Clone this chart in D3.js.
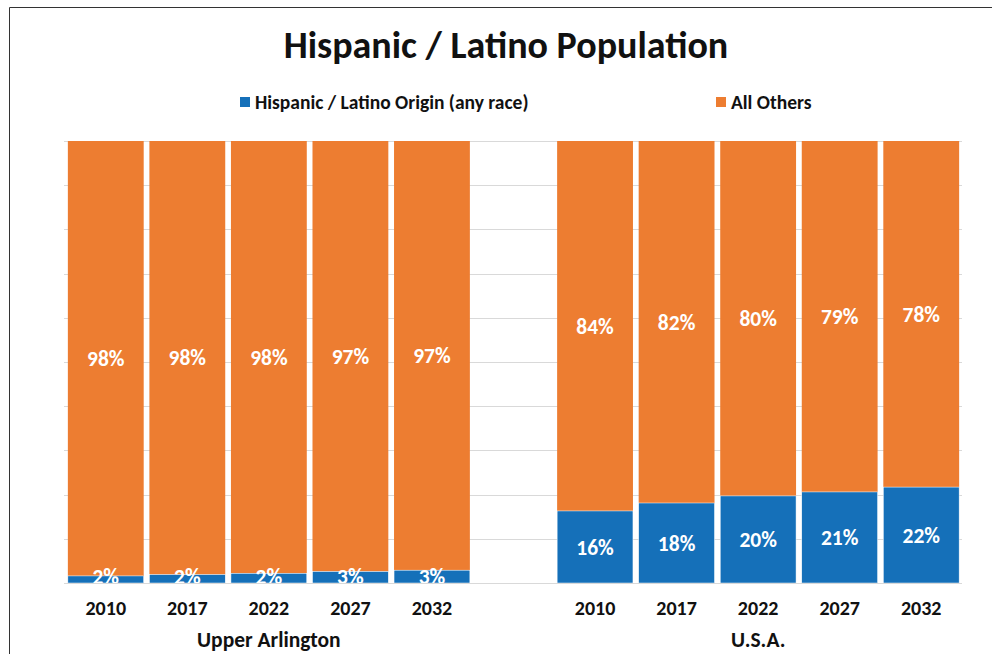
<!doctype html>
<html lang="en">
<head>
    <meta charset="UTF-8">
    <title>Hispanic / Latino Population</title>
    <style>
        body { margin: 0; background: #fff; }
        svg text { font-family: Carlito, Calibri, Lato, "Open Sans", sans-serif; font-weight: bold; }
    </style>
</head>
<body>
    <svg width="992" height="654"></svg>
    <script src="https://cdn.jsdelivr.net/npm/d3@7"></script>
    <script>
        const years = ['2010', '2017', '2022', '2027', '2032']
        const places = ['Upper Arlington', 'U.S.A.']
        const seriesNames = ['Hispanic / Latino Origin (any race)', 'All Others']
        const colors = ['#1570b9', '#ed7d31']
        // hispanic share (%), others = 100 - share
        const hispanicUA = [1.6, 1.9, 2.2, 2.6, 2.9]
        const hispanicUSA = [16.3, 18.1, 19.7, 20.6, 21.7]

        const rows = [].concat(
            years.map((y, i) => ({key: 'UA-' + y, year: y, h: hispanicUA[i]})),
            [{key: 'gap'}],
            years.map((y, i) => ({key: 'USA-' + y, year: y, h: hispanicUSA[i]}))
        )
        const bars = rows.filter(d => d.key !== 'gap')

        const svg = d3.select('svg')
        const plotTop = 141, plotBottom = 583, plotLeft = 65, plotRight = 962

        const x = d3.scaleBand().domain(rows.map(d => d.key))
            .range([plotLeft, plotRight]).paddingInner(0.07).paddingOuter(0.035)
        const y = d3.scaleLinear().domain([0, 100]).range([plotBottom, plotTop])

        // frame
        svg.append('path').attr('d', 'M9.5,654 V7.5 H992')
            .attr('fill', 'none').attr('stroke', '#333').attr('stroke-width', 1)

        // gridlines
        svg.append('g').selectAll('line').data(d3.range(10, 101, 10)).enter()
            .append('line')
            .attr('x1', plotLeft - 1).attr('x2', plotRight)
            .attr('y1', d => Math.round(y(d)) + 0.5).attr('y2', d => Math.round(y(d)) + 0.5)
            .attr('stroke', '#d9d9d9')

        // stacked bars
        const g = svg.append('g')
        g.selectAll('.others').data(bars).enter().append('rect')
            .attr('x', d => x(d.key)).attr('width', x.bandwidth())
            .attr('y', y(100)).attr('height', d => y(d.h) - y(100))
            .attr('fill', colors[1])
        g.selectAll('.hisp').data(bars).enter().append('rect')
            .attr('x', d => x(d.key)).attr('width', x.bandwidth())
            .attr('y', d => y(d.h)).attr('height', d => y(0) - y(d.h))
            .attr('fill', colors[0]).attr('stroke', '#fff').attr('stroke-width', 0.5)

        // baseline
        svg.append('line').attr('x1', plotLeft - 1).attr('x2', plotRight)
            .attr('y1', plotBottom + 0.5).attr('y2', plotBottom + 0.5).attr('stroke', '#d9d9d9')

        // value labels
        g.selectAll('.lblO').data(bars).enter().append('text')
            .attr('x', d => x(d.key) + x.bandwidth() / 2)
            .attr('y', d => (y(100) + y(d.h)) / 2)
            .attr('dy', '0.35em').attr('text-anchor', 'middle')
            .attr('fill', '#fff').attr('font-size', 21.5)
            .text(d => Math.round(100 - d.h) + '%')
        g.selectAll('.lblH').data(bars).enter().append('text')
            .attr('x', d => x(d.key) + x.bandwidth() / 2)
            .attr('y', d => d.h < 5 ? y(0) - 7 : (y(d.h) + y(0)) / 2)
            .attr('dy', '0.35em').attr('text-anchor', 'middle')
            .attr('fill', '#fff').attr('font-size', 21.5)
            .text(d => Math.round(d.h) + '%')

        // axis labels
        svg.append('g').selectAll('text').data(bars).enter().append('text')
            .attr('x', d => x(d.key) + x.bandwidth() / 2).attr('y', 615)
            .attr('text-anchor', 'middle').attr('font-size', 20).attr('fill', '#111')
            .text(d => d.year)

        const groupKeys = [['UA-2010', 'UA-2032'], ['USA-2010', 'USA-2032']]
        svg.append('g').selectAll('text').data(places).enter().append('text')
            .attr('x', (d, i) => (x(groupKeys[i][0]) + x(groupKeys[i][1]) + x.bandwidth()) / 2)
            .attr('y', 647).attr('text-anchor', 'middle').attr('font-size', 21.5).attr('fill', '#111')
            .text(d => d)

        // title
        svg.append('text').attr('x', 506).attr('y', 58).attr('text-anchor', 'middle')
            .attr('font-size', 38).attr('fill', '#111').text('Hispanic / Latino Population')

        // legend
        const legendX = [240, 716]
        const lg = svg.append('g').selectAll('g').data(seriesNames).enter().append('g')
            .attr('transform', (d, i) => `translate(${legendX[i]},102)`)
        lg.append('rect').attr('y', -5).attr('width', 10).attr('height', 10)
            .attr('fill', (d, i) => colors[i])
        lg.append('text').attr('x', 15).attr('dy', '0.35em').attr('font-size', 19.5)
            .attr('fill', '#111').text(d => d)
    </script>
</body>
</html>
